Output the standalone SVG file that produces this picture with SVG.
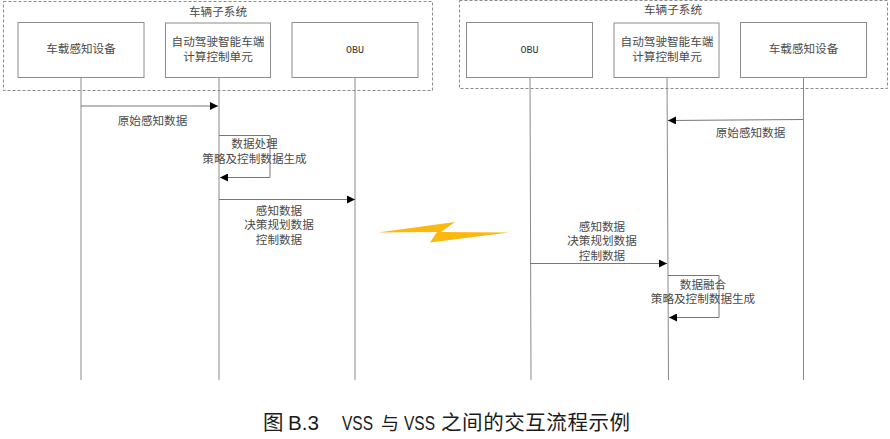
<svg xmlns="http://www.w3.org/2000/svg" width="890" height="439" viewBox="0 0 890 439">
<style>
.b{fill:#fff;stroke:#8c8c8c;stroke-width:1}
.d{fill:none;stroke:#8a8a8a;stroke-width:1;stroke-dasharray:3 2}
.l{fill:none;stroke:#8a8a8a;stroke-width:1}
.m{fill:none;stroke:#777;stroke-width:1}
text{font-family:"Noto Sans CJK SC","Liberation Sans",sans-serif;font-size:11.6px;fill:#4a4a4a;text-anchor:middle}
.o{font-family:"Liberation Mono",monospace;font-size:10px;fill:#333}
.c{font-size:20.5px;fill:#1a1a1a;text-anchor:start}
.e{font-size:18px;fill:#1a1a1a;text-anchor:start}
.cm{font-family:"Liberation Sans",sans-serif;font-size:20px;fill:#1a1a1a;text-anchor:start}
</style>
<defs>
<marker id="a" markerUnits="userSpaceOnUse" markerWidth="8" markerHeight="8" refX="8" refY="4" orient="auto"><path d="M0 0L8 4L0 8Z" fill="#000"/></marker>
</defs>
<g id="subsystem-left"><rect class="d" x="3.500" y="1.500" width="429" height="89"/><text x="218" y="16">车辆子系统</text></g>
<g id="subsystem-right"><rect class="d" x="459.500" y="0.500" width="428" height="88"/><text x="673" y="14">车辆子系统</text></g>
<g id="connectors">
<path class="l" d="M81 77V380M219 77V380M355 77V380M530 77L531 380M667 77L668.500 380M803.500 77V380"/>
<path class="m" marker-end="url(#a)" d="M81 106H218"/>
<path class="m" marker-end="url(#a)" d="M219 135.500H270V177.500H220"/>
<path class="m" marker-end="url(#a)" d="M219 199.500H355"/>
<path class="m" marker-end="url(#a)" d="M803.500 119.500L668 120.500"/>
<path class="m" marker-end="url(#a)" d="M530 263.500H667"/>
<path class="m" marker-end="url(#a)" d="M668 275.500H719V317.500H669"/>
</g>
<g id="n1"><rect class="b" x="18" y="22.500" width="126" height="55"/><text x="81" y="53">车载感知设备</text></g>
<g id="n2"><rect class="b" x="165.500" y="23" width="105" height="54.500"/><text x="218" y="46">自动驾驶智能车端</text><text x="218" y="61">计算控制单元</text></g>
<g id="n3"><rect class="b" x="292" y="22.500" width="126" height="55"/><text class="o" x="355" y="53">OBU</text></g>
<g id="n4"><rect class="b" x="466.500" y="22.500" width="126" height="55"/><text class="o" x="529.500" y="53">OBU</text></g>
<g id="n5"><rect class="b" x="614" y="23" width="105" height="54.500"/><text x="667" y="46">自动驾驶智能车端</text><text x="667" y="61">计算控制单元</text></g>
<g id="n6"><rect class="b" x="740.500" y="22.500" width="126" height="55"/><text x="803.500" y="53">车载感知设备</text></g>
<g id="labels">
<text x="152.500" y="125">原始感知数据</text>
<text x="254.500" y="148">数据处理</text>
<text x="254.500" y="163">策略及控制数据生成</text>
<text x="279" y="214.500">感知数据</text>
<text x="279" y="229">决策规划数据</text>
<text x="279" y="243.500">控制数据</text>
<text x="750.500" y="137">原始感知数据</text>
<text x="602" y="230.500">感知数据</text>
<text x="602" y="245">决策规划数据</text>
<text x="602" y="259.500">控制数据</text>
<text x="703" y="288.500">数据融合</text>
<text x="703" y="303">策略及控制数据生成</text>
</g>
<polygon id="bolt" fill="#fbb80f" points="378,232.500 455,222 441,232 509,232.500 430,242.500 437,232"/>
<g id="caption">
<text class="c" x="263" y="430">图</text>
<text class="cm" x="288" y="430" textLength="31" lengthAdjust="spacingAndGlyphs">B.3</text>
<text class="cm" x="342" y="430" textLength="31" lengthAdjust="spacingAndGlyphs">VSS</text>
<text class="e" x="381" y="430">与</text>
<text class="cm" x="404" y="430" textLength="31" lengthAdjust="spacingAndGlyphs">VSS</text>
<text class="c" x="441" y="430" textLength="189" lengthAdjust="spacing">之间的交互流程示例</text>
</g>
</svg>
